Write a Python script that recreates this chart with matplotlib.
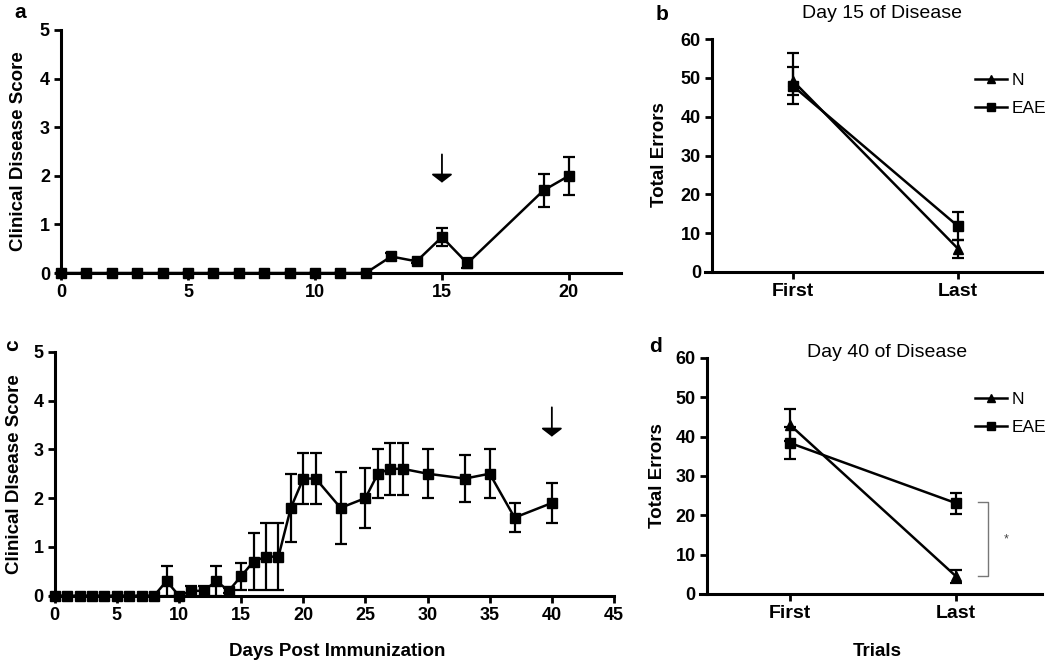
import matplotlib
matplotlib.use("Agg")
import matplotlib.pyplot as plt
from matplotlib import font_manager as fm
from matplotlib.lines import Line2D

# ---------------- data ----------------
days_a = [0, 1, 2, 3, 4, 5, 6, 7, 8, 9, 10, 11, 12, 13, 14, 15, 16, 19, 20]
score_a = [0, 0, 0, 0, 0, 0, 0, 0, 0, 0, 0, 0, 0, 0.34, 0.24, 0.74, 0.2, 1.7, 2.0]
err_a = [0, 0, 0, 0, 0, 0, 0, 0, 0, 0, 0, 0, 0, 0.07, 0.03, 0.19, 0.1, 0.34, 0.39]

days_c = [0, 1, 2, 3, 4, 5, 6, 7, 8, 9, 10, 11, 12, 13, 14, 15, 16, 17, 18, 19, 20, 21,
          23, 25, 26, 27, 28, 30, 33, 35, 37, 40]
score_c = [0, 0, 0, 0, 0, 0, 0, 0, 0, 0.3, 0, 0.1, 0.1, 0.3, 0.1, 0.4, 0.7, 0.8, 0.8, 1.8,
           2.4, 2.4, 1.8, 2.0, 2.5, 2.6, 2.6, 2.5, 2.4, 2.5, 1.6, 1.9]
err_c = [0, 0, 0, 0, 0, 0, 0, 0, 0, 0.3, 0, 0.1, 0.1, 0.3, 0.05, 0.28, 0.58, 0.68, 0.68, 0.69,
         0.53, 0.53, 0.74, 0.61, 0.5, 0.53, 0.53, 0.5, 0.48, 0.5, 0.29, 0.4]

trials = ["First", "Last"]
b_N = [49.2, 6.0]
b_N_err = [3.5, 2.3]
b_EAE = [47.9, 11.8]
b_EAE_err_low = [4.6, 3.6]
b_EAE_err_high = [8.5, 3.6]

d_N = [43.0, 4.5]
d_N_err = [4.0, 1.7]
d_EAE = [38.4, 23.1]
d_EAE_err = [4.0, 2.7]

arrow_a = (15, 2.44, 1.86)
arrow_c = (40, 3.86, 3.26)

# ---------------- fonts ----------------
names = {f.name for f in fm.fontManager.ttflist}
tickfam = ["Liberation Sans Narrow", "Liberation Sans"] if "Liberation Sans Narrow" in names else ["Liberation Sans"]
plt.rcParams["font.family"] = ["Liberation Sans", "DejaVu Sans"]

W, H = 1050, 664
fig = plt.figure(figsize=(W / 100, H / 100), dpi=100)


def px_axes(left, right, bottom, top):
    return fig.add_axes([left / W, 1 - bottom / H, (right - left) / W, (bottom - top) / H])


def ftext(x, y, s, **kw):
    fig.text(x / W, 1 - y / H, s, **kw)


LW_AX = 2.2
LW_DATA = 1.8


def style(ax):
    for s in ["top", "right"]:
        ax.spines[s].set_visible(False)
    for s in ["left", "bottom"]:
        ax.spines[s].set_linewidth(LW_AX)
    ax.tick_params(direction="out", length=5, width=2, pad=3)
    for lab in ax.get_xticklabels() + ax.get_yticklabels():
        lab.set_fontfamily(tickfam)
        lab.set_fontweight("bold")
        lab.set_fontsize(13)


def arrow(ax, a):
    x, y0, y1 = a
    ax.annotate("", xy=(x, y1), xytext=(x, y0),
                arrowprops=dict(arrowstyle="-|>,head_width=0.65,head_length=0.5",
                                mutation_scale=10, lw=1.3, color="black",
                                shrinkA=0, shrinkB=0))


eb = dict(color="black", lw=LW_DATA, capsize=4.5, capthick=1.6, elinewidth=1.6,
          markersize=7.5, clip_on=False, zorder=3)

# ---------------- panel a ----------------
axa = px_axes(61, 621, 273, 30)
axa.errorbar(days_a, score_a, yerr=err_a, marker="s", **eb)
axa.set_xlim(0, 22.05)
axa.set_ylim(0, 5)
axa.set_xticks([0, 5, 10, 15, 20])
axa.set_yticks([0, 1, 2, 3, 4, 5])
style(axa)
arrow(axa, arrow_a)

# ---------------- panel c ----------------
axc = px_axes(54.7, 614, 595.7, 351.7)
axc.errorbar(days_c, score_c, yerr=err_c, marker="s", **eb)
axc.set_xlim(0, 45)
axc.set_ylim(0, 5)
axc.set_xticks(list(range(0, 46, 5)))
axc.set_yticks([0, 1, 2, 3, 4, 5])
style(axc)
arrow(axc, arrow_c)

# ---------------- panel b ----------------
xpos = [0, 1]
axb = px_axes(705, 1042, 272, 39)
axb.errorbar(xpos, b_N, yerr=b_N_err, marker="^", **eb)
axb.errorbar(xpos, b_EAE, yerr=[b_EAE_err_low, b_EAE_err_high], marker="s", **eb)
axb.set_xlim(-0.533, 1.509)
axb.set_ylim(0, 60)
axb.spines["left"].set_position(("data", -0.49))
axb.set_xticks(xpos)
axb.set_xticklabels(trials)
axb.set_yticks(range(0, 61, 10))
style(axb)

# ---------------- panel d ----------------
axd = px_axes(700, 1042, 594, 358)
axd.errorbar(xpos, d_N, yerr=d_N_err, marker="^", **eb)
axd.errorbar(xpos, d_EAE, yerr=d_EAE_err, marker="s", **eb)
axd.set_xlim(-0.542, 1.518)
axd.set_ylim(0, 60)
axd.spines["left"].set_position(("data", -0.5))
axd.set_xticks(xpos)
axd.set_xticklabels(trials)
axd.set_yticks(range(0, 61, 10))
style(axd)

# significance bracket
bx0, bx1 = 1.13, 1.19
axd.plot([bx0, bx1, bx1, bx0], [d_EAE[1] + 0.3, d_EAE[1] + 0.3, d_N[1] + 0.2, d_N[1] + 0.2],
         color="#777777", lw=1.0, clip_on=False)
axd.text(1.3, (d_EAE[1] + d_N[1]) / 2, "*", ha="center", va="center", fontsize=9, color="#444444")

for ax, ytop in ((axb, 73), (axd, 392)):
    for lab in ax.get_xticklabels():
        lab.set_fontfamily(["Liberation Sans"])
        lab.set_fontsize(14)
    newh = [Line2D([], [], color="black", lw=LW_DATA, marker=m, markersize=6) for m in ["^", "s"]]
    ax.legend(newh, ["N", "EAE"], loc="upper left", frameon=False, fontsize=12.5,
              handlelength=1.85, handletextpad=0.28, labelspacing=0.75, borderaxespad=0,
              borderpad=0, bbox_to_anchor=(975 / W, 1 - ytop / H),
              bbox_transform=fig.transFigure)

# ---------------- texts ----------------
lab_kw = dict(fontweight="bold", fontsize=13.5, ha="center", va="center")
ftext(19, 151, "Clinical Disease Score", rotation=90, **lab_kw)
ftext(15, 474, "Clinical DIsease Score", rotation=90, **lab_kw)
ftext(660, 155, "Total Errors", rotation=90, **lab_kw)
ftext(657, 476, "Total Errors", rotation=90, **lab_kw)
ftext(337, 652, "Days Post Immunization", **lab_kw)
ftext(877, 652, "Trials", **lab_kw)

ftext(882, 13, "Day 15 of Disease", fontsize=14, ha="center", va="center")
ftext(887, 353, "Day 40 of Disease", fontsize=14, ha="center", va="center")

pl_kw = dict(fontweight="bold", fontsize=15, ha="center", va="center")
ftext(20, 13, "a", **pl_kw)
ftext(662, 14, "b", **pl_kw)
ftext(13, 345, "c", rotation=90, **pl_kw)
ftext(655, 347, "d", **pl_kw)

fig.savefig("out.png", dpi=100)
